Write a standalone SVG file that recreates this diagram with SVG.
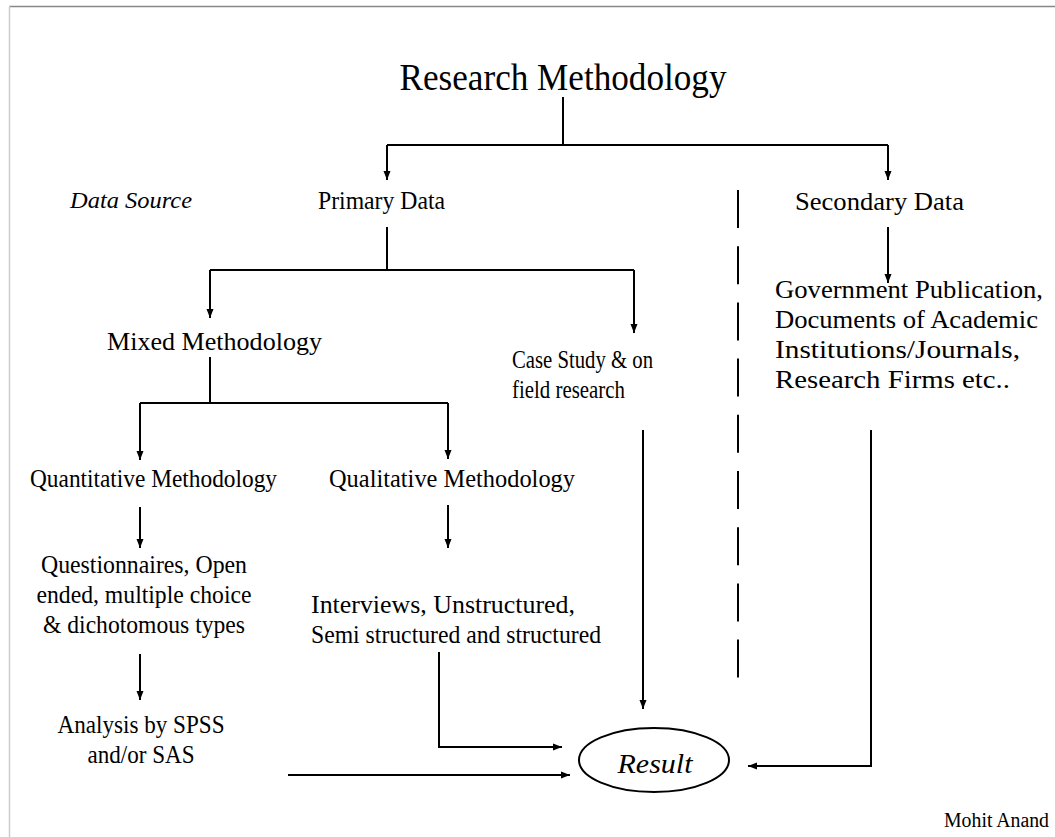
<svg xmlns="http://www.w3.org/2000/svg" width="1055" height="837" viewBox="0 0 1055 837">
<style>
.t{font-family:"Liberation Serif","Times New Roman",serif;font-size:25px;fill:#000}
.i{font-style:italic}
.c{stroke:#000;stroke-width:2;fill:none}
</style>
<defs>
<marker id="ah" markerUnits="userSpaceOnUse" markerWidth="10" markerHeight="8" refX="9" refY="4" orient="auto">
<path d="M0,0.5 L9,4 L0,7.5 z" fill="#000"/>
</marker>
</defs>
<rect width="1055" height="837" fill="#fff"/>
<line x1="9" y1="6.5" x2="1055" y2="6.5" stroke="#888" stroke-width="1.5"/>
<line x1="9.5" y1="6" x2="9.5" y2="837" stroke="#ccc" stroke-width="1.5"/>

<g id="connectors">
<polyline class="c" points="563,97 563,145"/>
<polyline class="c" points="387,145 888,145"/>
<polyline class="c" points="387,145 387,180" marker-end="url(#ah)"/>
<polyline class="c" points="888,145 888,180" marker-end="url(#ah)"/>
<polyline class="c" points="387,227 387,270"/>
<polyline class="c" points="210,270 634,270"/>
<polyline class="c" points="210,270 210,318" marker-end="url(#ah)"/>
<polyline class="c" points="634,270 634,333" marker-end="url(#ah)"/>
<polyline class="c" points="888,227 888,283" marker-end="url(#ah)"/>
<polyline class="c" points="210,357 210,403"/>
<polyline class="c" points="140,403 448,403"/>
<polyline class="c" points="140,403 140,460" marker-end="url(#ah)"/>
<polyline class="c" points="448,403 448,459" marker-end="url(#ah)"/>
<polyline class="c" points="140,507 140,548" marker-end="url(#ah)"/>
<polyline class="c" points="448,505 448,548" marker-end="url(#ah)"/>
<polyline class="c" points="140,654 140,700" marker-end="url(#ah)"/>
<polyline class="c" points="643,430 643,709" marker-end="url(#ah)"/>
<polyline class="c" points="439,652 439,747 562,747" marker-end="url(#ah)"/>
<polyline class="c" points="288,775 570,775" marker-end="url(#ah)"/>
<polyline class="c" points="871,430 871,766 748,766" marker-end="url(#ah)"/>
<line class="c" x1="738" y1="190" x2="738" y2="684" stroke-dasharray="38 18.2"/>
</g>

<g id="title"><text class="t" x="563" y="90" text-anchor="middle" style="font-size:38px" textLength="327" lengthAdjust="spacingAndGlyphs">Research Methodology</text></g>
<g id="data-source"><text class="t i" x="70" y="208" style="font-size:24px" textLength="122" lengthAdjust="spacingAndGlyphs">Data Source</text></g>
<g id="primary"><text class="t" x="318" y="209" textLength="127" lengthAdjust="spacingAndGlyphs">Primary Data</text></g>
<g id="secondary"><text class="t" x="795" y="210" textLength="169" lengthAdjust="spacingAndGlyphs">Secondary Data</text></g>
<g id="secondary-sources">
<text class="t" x="775" y="298" textLength="268" lengthAdjust="spacingAndGlyphs">Government Publication,</text>
<text class="t" x="775" y="328" textLength="263" lengthAdjust="spacingAndGlyphs">Documents of Academic</text>
<text class="t" x="775" y="358" textLength="245" lengthAdjust="spacingAndGlyphs">Institutions/Journals,</text>
<text class="t" x="775" y="388" textLength="235" lengthAdjust="spacingAndGlyphs">Research Firms etc..</text>
</g>
<g id="mixed"><text class="t" x="107" y="350" textLength="215" lengthAdjust="spacingAndGlyphs">Mixed Methodology</text></g>
<g id="case-study">
<text class="t" x="512" y="368" textLength="141" lengthAdjust="spacingAndGlyphs">Case Study &amp; on</text>
<text class="t" x="512" y="398" textLength="113" lengthAdjust="spacingAndGlyphs">field research</text>
</g>
<g id="quantitative"><text class="t" x="30" y="487" textLength="247" lengthAdjust="spacingAndGlyphs">Quantitative Methodology</text></g>
<g id="qualitative"><text class="t" x="329" y="487" textLength="246" lengthAdjust="spacingAndGlyphs">Qualitative Methodology</text></g>
<g id="questionnaires">
<text class="t" x="144" y="573" text-anchor="middle" textLength="206" lengthAdjust="spacingAndGlyphs">Questionnaires, Open</text>
<text class="t" x="144" y="603" text-anchor="middle" textLength="215" lengthAdjust="spacingAndGlyphs">ended, multiple choice</text>
<text class="t" x="144" y="633" text-anchor="middle" textLength="202" lengthAdjust="spacingAndGlyphs">&amp; dichotomous types</text>
</g>
<g id="interviews">
<text class="t" x="311" y="613" textLength="264" lengthAdjust="spacingAndGlyphs">Interviews, Unstructured,</text>
<text class="t" x="311" y="643" textLength="290" lengthAdjust="spacingAndGlyphs">Semi structured and structured</text>
</g>
<g id="analysis">
<text class="t" x="141" y="733" text-anchor="middle" textLength="167" lengthAdjust="spacingAndGlyphs">Analysis by SPSS</text>
<text class="t" x="141" y="763" text-anchor="middle" textLength="107" lengthAdjust="spacingAndGlyphs">and/or SAS</text>
</g>
<g id="result">
<ellipse cx="654" cy="760" rx="75" ry="32" fill="none" stroke="#000" stroke-width="2"/>
<text class="t i" x="655" y="773" text-anchor="middle" style="font-size:27px" textLength="75" lengthAdjust="spacingAndGlyphs">Result</text>
</g>
<g id="author"><text class="t" x="1049" y="827" text-anchor="end" style="font-size:20px" textLength="105" lengthAdjust="spacingAndGlyphs">Mohit Anand</text></g>
</svg>
